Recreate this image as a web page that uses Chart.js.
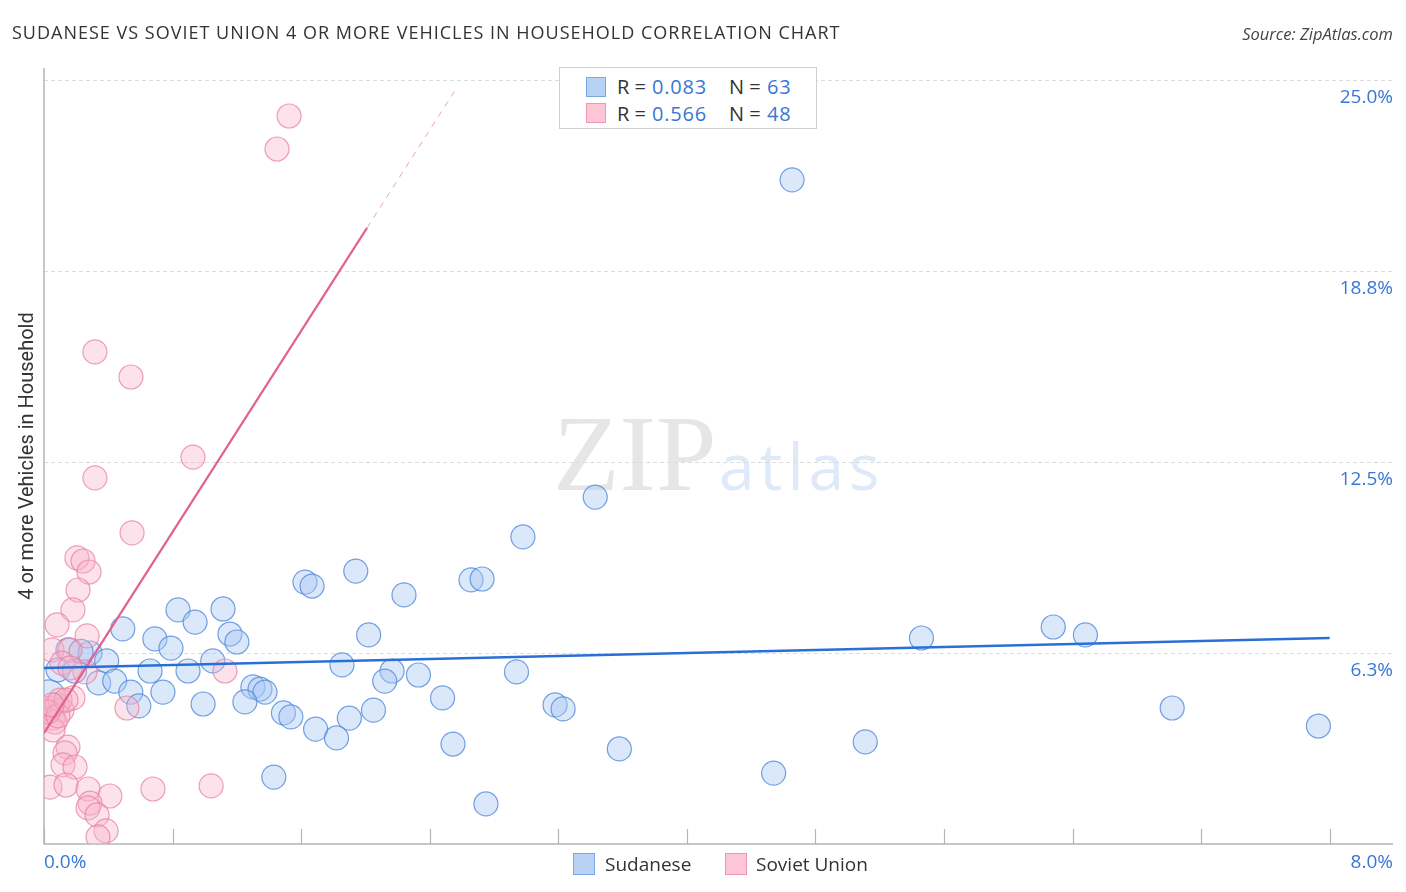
<!DOCTYPE html>
<html>
<head>
<meta charset="utf-8">
<script src="https://cdn.jsdelivr.net/npm/chart.js@4"></script>
<style>
  body { margin: 0; background: #fff; font-family: "Open Sans", Roboto, sans-serif; }
  #wrap { position: relative; width: 1406px; height: 892px; }
  #chart { position: absolute; left: 0; top: 0; }
  .title { position: absolute; left: 12px; top: 20px; font-size: 18px; color: #333; letter-spacing: 1px; white-space: nowrap; }
  .source { position: absolute; right: 13px; top: 22px; font-size: 16.5px; color: #444; font-style: italic; }
  .stats { position: absolute; left: 559px; top: 67px; width: 256px; height: 60px; border: 1px solid #d0d0d0; background: #fff; }
  .t { position: absolute; font-size: 20px; color: #333; white-space: nowrap; line-height: 24px; }
  .v { color: #3a76d6; }
  .sw { position: absolute; width: 20px; height: 20px; box-sizing: border-box; }
  .blue { background: #b8d2f5; border: 1px solid #7aa6e6; }
  .pink { background: #fcc6d6; border: 1px solid #ef98b3; }
  .bot { position: absolute; top: 851px; font-size: 19px; color: #333; white-space: nowrap; }
</style>
</head>
<body>
<div id="wrap">
  <canvas id="chart" width="1406" height="892"></canvas>
  <div class="title">SUDANESE VS SOVIET UNION 4 OR MORE VEHICLES IN HOUSEHOLD CORRELATION CHART</div>
  <div class="source">Source: ZipAtlas.com</div>
  <div class="stats">
    <div class="sw blue" style="left:26px;top:9px"></div>
    <div class="t" style="left:57px;top:7px">R =</div>
    <div class="t v" style="left:92px;top:7px;letter-spacing:0.8px">0.083</div>
    <div class="t" style="left:169px;top:7px">N =</div>
    <div class="t v" style="left:207px;top:7px;letter-spacing:0.8px">63</div>
    <div class="sw pink" style="left:26px;top:35px"></div>
    <div class="t" style="left:57px;top:34px">R =</div>
    <div class="t v" style="left:92px;top:34px;letter-spacing:0.8px">0.566</div>
    <div class="t" style="left:169px;top:34px">N =</div>
    <div class="t v" style="left:207px;top:34px;letter-spacing:0.8px">48</div>
  </div>
  <div class="sw blue" style="left:573px;top:853px;width:22px;height:22px"></div>
  <div class="bot" style="left:605px">Sudanese</div>
  <div class="sw pink" style="left:725px;top:853px;width:22px;height:22px"></div>
  <div class="bot" style="left:756px">Soviet Union</div>
</div>
<script>
// Sudanese (blue) points, x = % , y = %
const sudaneseX = [4.655, 3.43, 2.98, 1.94, 1.624, 1.668, 2.657, 2.726, 2.24, 0.834,
  1.114, 0.94, 0.49, 0.69, 0.79, 1.157, 1.2, 2.02, 5.46, 6.28,
  6.48, 0.149, 0.286, 0.39, 1.05, 0.66, 0.896, 1.854, 2.166, 2.33,
  2.12, 2.94, 0.087, 0.19, 0.34, 0.44, 0.54, 0.74, 1.30, 1.344,
  1.375, 0.59, 0.99, 1.25, 2.48, 1.49, 1.536, 2.05, 1.90, 3.18,
  3.23, 1.69, 1.82, 2.545, 3.58, 5.11, 7.02, 7.93, 1.43, 4.54,
  2.75, 0.025, 0.23];
const sudaneseY = [21.73, 11.35, 10.05, 8.93, 8.57, 8.44, 8.64, 8.67, 8.15, 7.66,
  7.69, 7.26, 7.04, 6.71, 6.41, 6.87, 6.61, 6.84, 6.74, 7.10,
  6.84, 6.35, 6.25, 5.99, 5.99, 5.66, 5.66, 5.86, 5.66, 5.53,
  5.33, 5.63, 5.70, 5.66, 5.27, 5.33, 4.97, 4.97, 5.14, 5.07,
  4.97, 4.52, 4.58, 4.65, 4.78, 4.29, 4.16, 4.38, 4.12, 4.55,
  4.42, 3.76, 3.47, 3.27, 3.11, 3.34, 4.45, 3.86, 2.19, 2.32,
  1.31, 4.78, 6.30];
const sudaneseR = sudaneseX.map((x, i) => i === 61 ? 18 : 12);

// Soviet Union (pink) points
const sovietX = [1.525, 1.45, 0.317, 0.541, 0.927, 0.317, 0.548, 0.205, 0.243, 0.28,
  0.212, 0.18, 0.081, 0.268, 0.05, 0.162, 0.112, 0.255, 1.126, 0.18,
  0.037, 0.081, 0.112, 0.056, 0.068, 0.056, 0.149, 0.131, 0.118, 0.193,
  0.037, 0.137, 0.274, 0.41, 0.286, 0.274, 0.33, 0.386, 0.336, 0.516,
  0.678, 1.04, 0.10, 0.025, 0.087, 0.137, 0.162, 0.05];
const sovietY = [23.82, 22.74, 16.10, 15.28, 12.66, 11.98, 10.18, 9.36, 9.26, 8.90,
  8.31, 7.66, 7.17, 6.81, 6.35, 6.35, 5.92, 5.63, 5.66, 4.78,
  4.45, 4.55, 4.38, 4.12, 3.99, 3.73, 3.17, 2.98, 2.59, 2.52,
  1.86, 1.93, 1.80, 1.57, 1.34, 1.18, 0.95, 0.43, 0.23, 4.45,
  1.80, 1.90, 4.71, 4.32, 4.19, 4.71, 5.76, 4.55];

// trend lines
const blueTrend = [{x: 0, y: 5.76}, {x: 8.0, y: 6.74}];
const pinkTrend = [{x: 0, y: 3.63}, {x: 2.01, y: 20.16}];
const pinkTrendExt = [{x: 2.01, y: 20.16}, {x: 2.557, y: 24.65}];

const yTicks = [6.25, 12.5, 18.75, 25.0];
const yTickLabels = ['6.3%', '12.5%', '18.8%', '25.0%'];
const xTicks = [0, 0.8, 1.6, 2.4, 3.2, 4.0, 4.8, 5.6, 6.4, 7.2, 8.0];

function pts(xs, ys) { return xs.map((x, i) => ({x: x, y: ys[i]})); }

const decor = {
  id: 'decor',
  beforeDatasetsDraw(chart) {
    const ctx = chart.ctx, a = chart.chartArea;
    const xs = chart.scales.x, ys = chart.scales.y;
    ctx.save();
    // watermark
    ctx.textBaseline = 'alphabetic';
    ctx.font = '109px "Liberation Serif", "DejaVu Serif", serif';
    ctx.fillStyle = 'rgba(200,200,200,0.45)';
    ctx.fillText('ZIP', 553, 490);
    ctx.font = '64px "Open Sans", Roboto, sans-serif';
    ctx.letterSpacing = '5px';
    ctx.fillStyle = 'rgba(170,200,240,0.38)';
    ctx.fillText('atlas', 719, 490);
    ctx.letterSpacing = '0px';
    // grid
    ctx.strokeStyle = '#dcdcdc';
    ctx.lineWidth = 1;
    ctx.setLineDash([4, 3]);
    yTicks.forEach(v => {
      const y = Math.round(ys.getPixelForValue(v)) + 0.5;
      ctx.beginPath(); ctx.moveTo(a.left, y); ctx.lineTo(a.right, y); ctx.stroke();
    });
    ctx.setLineDash([]);
    // axes
    ctx.strokeStyle = '#b5b5b5';
    ctx.lineWidth = 1.5;
    ctx.beginPath();
    ctx.moveTo(a.left, a.top); ctx.lineTo(a.left, a.bottom); ctx.lineTo(a.right, a.bottom);
    ctx.stroke();
    ctx.lineWidth = 1.2;
    xTicks.forEach(v => {
      const x = Math.round(xs.getPixelForValue(v)) + 0.5;
      ctx.beginPath(); ctx.moveTo(x, a.bottom - 15); ctx.lineTo(x, a.bottom); ctx.stroke();
    });
    // tick labels
    ctx.fillStyle = '#3a76d6';
    ctx.font = '19px "Open Sans", Roboto, sans-serif';
    ctx.textAlign = 'right';
    ctx.textBaseline = 'middle';
    yTicks.forEach((v, i) => {
      ctx.fillText(yTickLabels[i], 1393, ys.getPixelForValue(v) + 18);
    });
    ctx.textAlign = 'left';
    ctx.fillText('0.0%', 44, 863);
    ctx.textAlign = 'right';
    ctx.fillText('8.0%', 1393, 863);
    // y title
    ctx.fillStyle = '#333';
    ctx.font = '20px Roboto, "Open Sans", sans-serif';
    ctx.translate(28, 456);
    ctx.rotate(-Math.PI / 2);
    ctx.textAlign = 'center';
    ctx.fillText('4 or more Vehicles in Household', 0, 0);
    ctx.restore();
  }
};

new Chart(document.getElementById('chart'), {
  type: 'scatter',
  data: {
    datasets: [
      {
        type: 'line', data: blueTrend, borderColor: '#2a6fd6', borderWidth: 2.5,
        pointRadius: 0, order: 0
      },
      {
        type: 'line', data: pinkTrend, borderColor: '#e3628d', borderWidth: 2.2,
        pointRadius: 0, order: 0
      },
      {
        type: 'line', data: pinkTrendExt, borderColor: '#eaa0b8', borderWidth: 1,
        borderDash: [6, 6], pointRadius: 0, order: 0
      },
      {
        label: 'Sudanese', data: pts(sudaneseX, sudaneseY),
        backgroundColor: 'rgba(170,200,242,0.42)', borderColor: 'rgba(80,138,220,0.8)',
        borderWidth: 1.2, pointRadius: sudaneseR, order: 2
      },
      {
        label: 'Soviet Union', data: pts(sovietX, sovietY),
        backgroundColor: 'rgba(248,180,202,0.38)', borderColor: 'rgba(232,128,160,0.75)',
        borderWidth: 1.2, pointRadius: 12, order: 1
      }
    ]
  },
  options: {
    responsive: false,
    animation: false,
    devicePixelRatio: 1,
    layout: { autoPadding: false, padding: { left: 44, right: 13, top: 68, bottom: 48 } },
    plugins: { legend: { display: false }, tooltip: { enabled: false } },
    scales: {
      x: { display: false, min: 0, max: 8.394 },
      y: { display: false, min: 0, max: 25.39 }
    }
  },
  plugins: [decor]
});
</script>
</body>
</html>
